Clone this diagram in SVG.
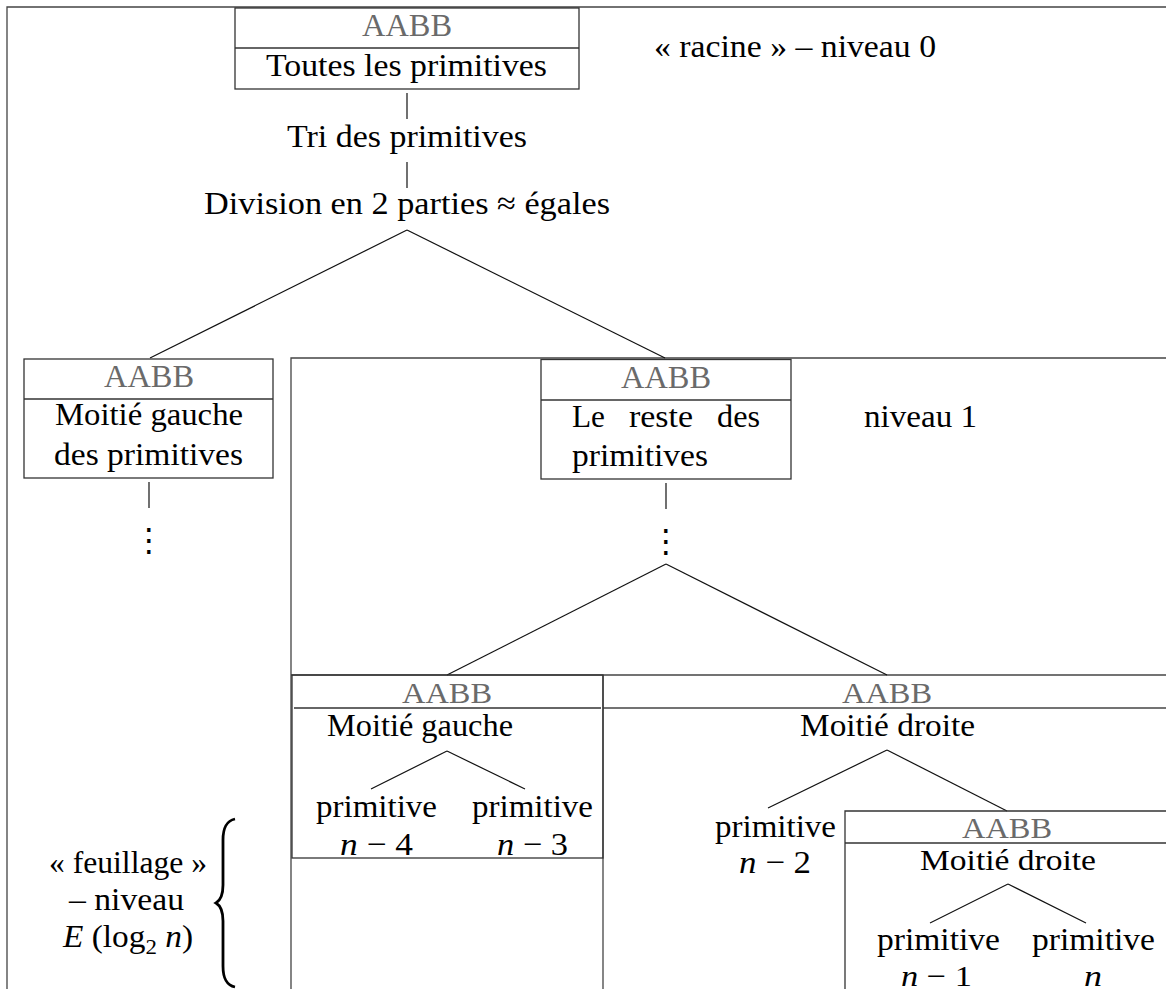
<svg xmlns="http://www.w3.org/2000/svg" width="1166" height="989" viewBox="0 0 1166 989">
<style>
text{font-family:"Liberation Serif","Times New Roman",serif;font-size:32px;fill:#000}
.g{fill:#6a6a6a}
.i{font-style:italic}
.s{font-size:30px}
.box{fill:none;stroke:#333;stroke-width:1.3}
.frame{fill:none;stroke:#444;stroke-width:1.3}
.edge{fill:none;stroke:#111;stroke-width:1.2}
.dots{font-family:"DejaVu Sans",sans-serif;font-size:32px}
</style>
<rect width="1166" height="989" fill="#fff"/>

<g id="frames">
<path class="frame" d="M7,989 V7 H1166"/>
<path class="frame" d="M291,989 V358 H1166"/>
<path class="frame" d="M291,675 H1166"/>
<path class="frame" d="M603,675 V989"/>
<path class="frame" d="M603,708 H1166"/>
</g>

<g id="connectors">
<line class="edge" x1="407" y1="93" x2="407" y2="119"/>
<line class="edge" x1="407" y1="162" x2="407" y2="188"/>
<line class="edge" x1="407" y1="230" x2="150" y2="358"/>
<line class="edge" x1="407" y1="230" x2="665" y2="358"/>
<line class="edge" x1="149" y1="482" x2="149" y2="508"/>
<line class="edge" x1="666" y1="483" x2="666" y2="509"/>
<line class="edge" x1="666" y1="564" x2="447" y2="675"/>
<line class="edge" x1="666" y1="564" x2="887" y2="675"/>
<line class="edge" x1="447" y1="751" x2="371" y2="789"/>
<line class="edge" x1="447" y1="751" x2="525" y2="789"/>
<line class="edge" x1="887" y1="750" x2="768" y2="808"/>
<line class="edge" x1="887" y1="750" x2="1007" y2="811"/>
<line class="edge" x1="1008" y1="884" x2="930" y2="923"/>
<line class="edge" x1="1008" y1="884" x2="1086" y2="923"/>
</g>

<g id="root">
<rect class="box" x="235" y="8" width="344" height="81"/>
<line class="box" x1="235" y1="48" x2="579" y2="48"/>
<text class="g" x="362" y="36" textLength="90" lengthAdjust="spacingAndGlyphs">AABB</text>
<text x="266" y="76" textLength="281" lengthAdjust="spacingAndGlyphs">Toutes les primitives</text>
</g>

<g id="tri">
<text x="287" y="147" textLength="240" lengthAdjust="spacingAndGlyphs">Tri des primitives</text>
</g>

<g id="division">
<text x="204" y="214" textLength="406" lengthAdjust="spacingAndGlyphs">Division en 2 parties ≈ égales</text>
</g>

<g id="label-racine">
<text x="654" y="57" textLength="282" lengthAdjust="spacingAndGlyphs">« racine » – niveau 0</text>
</g>

<g id="left-half">
<rect class="box" x="24" y="359" width="249" height="119"/>
<line class="box" x1="24" y1="399" x2="273" y2="399"/>
<text class="g" x="104" y="387" textLength="90" lengthAdjust="spacingAndGlyphs">AABB</text>
<text x="55" y="425" textLength="188" lengthAdjust="spacingAndGlyphs">Moitié gauche</text>
<text x="54" y="465" textLength="189" lengthAdjust="spacingAndGlyphs">des primitives</text>
<text class="dots" x="149" y="551" text-anchor="middle">⋮</text>
</g>

<g id="rest">
<rect class="box" x="541" y="359.5" width="250" height="119.5"/>
<line class="box" x1="541" y1="400" x2="791" y2="400"/>
<text class="g" x="621" y="388" textLength="90" lengthAdjust="spacingAndGlyphs">AABB</text>
<text x="572" y="427" textLength="33" lengthAdjust="spacingAndGlyphs">Le</text>
<text x="629" y="427" textLength="64" lengthAdjust="spacingAndGlyphs">reste</text>
<text x="717" y="427" textLength="43" lengthAdjust="spacingAndGlyphs">des</text>
<text x="572" y="466" textLength="136" lengthAdjust="spacingAndGlyphs">primitives</text>
<text class="dots" x="666" y="552" text-anchor="middle">⋮</text>
</g>

<g id="label-niveau1">
<text x="864" y="427" textLength="113" lengthAdjust="spacingAndGlyphs">niveau 1</text>
</g>

<g id="level2-left">
<rect class="box" x="292" y="675" width="311" height="183"/>
<line class="box" x1="294" y1="708" x2="601" y2="708"/>
<text class="g s" x="402" y="703" textLength="90" lengthAdjust="spacingAndGlyphs">AABB</text>
<text x="327" y="736" textLength="186" lengthAdjust="spacingAndGlyphs">Moitié gauche</text>
<text x="316" y="817" textLength="121" lengthAdjust="spacingAndGlyphs">primitive</text>
<text x="472" y="817" textLength="121" lengthAdjust="spacingAndGlyphs">primitive</text>
<text x="340" y="855" textLength="73" lengthAdjust="spacingAndGlyphs"><tspan class="i">n</tspan> − 4</text>
<text x="497" y="855" textLength="71" lengthAdjust="spacingAndGlyphs"><tspan class="i">n</tspan> − 3</text>
</g>

<g id="level2-right">
<text class="g s" x="842" y="703" textLength="90" lengthAdjust="spacingAndGlyphs">AABB</text>
<text x="800" y="736" textLength="175" lengthAdjust="spacingAndGlyphs">Moitié droite</text>
</g>

<g id="leaf-n-2">
<text x="715" y="837" textLength="121" lengthAdjust="spacingAndGlyphs">primitive</text>
<text x="739" y="873" textLength="72" lengthAdjust="spacingAndGlyphs"><tspan class="i">n</tspan> − 2</text>
</g>

<g id="inner-right">
<path class="box" d="M845,989 V811 H1166"/>
<line class="box" x1="845" y1="843" x2="1166" y2="843"/>
<text class="g s" x="962" y="838" textLength="90" lengthAdjust="spacingAndGlyphs">AABB</text>
<text class="s" x="920" y="870" textLength="176" lengthAdjust="spacingAndGlyphs">Moitié droite</text>
<text x="877" y="950" textLength="123" lengthAdjust="spacingAndGlyphs">primitive</text>
<text x="1032" y="950" textLength="123" lengthAdjust="spacingAndGlyphs">primitive</text>
<text class="s" x="901" y="986" textLength="71" lengthAdjust="spacingAndGlyphs"><tspan class="i">n</tspan> − 1</text>
<text class="i s" x="1084" y="986" textLength="18" lengthAdjust="spacingAndGlyphs">n</text>
</g>

<g id="label-feuillage">
<text x="49" y="873" textLength="158" lengthAdjust="spacingAndGlyphs">« feuillage »</text>
<text x="69" y="910" textLength="115" lengthAdjust="spacingAndGlyphs">– niveau</text>
<text x="63" y="947" textLength="130" lengthAdjust="spacingAndGlyphs"><tspan class="i">E</tspan> (log<tspan font-size="22" dy="7">2</tspan><tspan dy="-7"> </tspan><tspan class="i">n</tspan>)</text>
<path d="M235,819 C226,821 223,828 223,840 L223,885 C223,895 221,900 216,903 C221,906 223,911 223,921 L223,966 C223,978 226,985 235,987" fill="none" stroke="#000" stroke-width="2.8"/>
</g>
</svg>
